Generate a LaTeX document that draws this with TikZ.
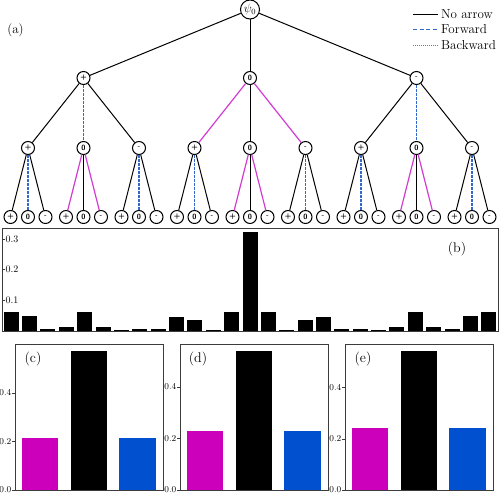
\documentclass[tikz,border=0pt]{standalone}
\usepackage{tikz}
\usetikzlibrary{positioning}

\definecolor{fwdblue}{RGB}{50,105,205}
\definecolor{bwdmag}{RGB}{210,60,210}
\definecolor{barmag}{RGB}{204,0,187}
\definecolor{barblue}{RGB}{0,80,208}
\definecolor{framegray}{RGB}{60,60,60}

\tikzset{
  state/.style={circle, draw=black, line width=1pt, inner sep=0pt, minimum size=13pt, font=\sffamily\bfseries\fontsize{7.5}{7.5}\selectfont},
  noarrow/.style={draw=black, line width=1pt},
  forward/.style={draw=fwdblue, dash pattern=on 2.5pt off 1.5pt, line width=1.3pt},
  backward/.style={draw=bwdmag, line width=1.2pt},
  % connector look from parent symbol to child symbol
  link pp/.style={noarrow}, link pz/.style={forward},  link pm/.style={noarrow},
  link zp/.style={backward}, link zz/.style={noarrow}, link zm/.style={backward},
  link mp/.style={noarrow}, link mz/.style={forward},  link mm/.style={noarrow},
  frame/.style={draw=framegray, line width=0.9pt},
  ticklabel/.style={font=\fontsize{9}{9}\selectfont, inner sep=0pt},
  panellabel/.style={font=\fontsize{14}{14}\selectfont, inner sep=0pt},
}

\begin{document}
\begin{tikzpicture}[x=1pt, y=-1pt]
        \useasboundingbox (0,0) rectangle (500,495);

        % (a) the tree: nodes first
        \node (laba) [font=\fontsize{13}{13}\selectfont] at (15.5,30) {(a)};
        \node (root) [state, minimum size=19pt, font=\fontsize{12}{12}\selectfont] at (250,9.5) {$\psi_0$};
        \foreach \a/\i/\ta in {p/-1/+, z/0/0, m/1/-} {
          \node (\a) [state] at ({250+166.5*\i},78) {\ta};
          \foreach \b/\j/\tb in {p/-1/+, z/0/0, m/1/-} {
            \node (\a\b) [state] at ({250+166.5*\i+55.5*\j},148) {\tb};
            \foreach \c/\k/\tc in {p/-1/+, z/0/0, m/1/-}
              \node (\a\b\c) [state] at ({250+166.5*\i+55.5*\j+17.5*\k},217) {\tc};
          }
        }

        % then the connectors
        \foreach \a in {p,z,m} {
          \draw [noarrow] (root) -- (\a);
          \foreach \b in {p,z,m} {
            \draw [link \a\b] (\a) -- (\a\b);
            \foreach \c in {p,z,m}
              \draw [link \b\c] (\a\b) -- (\a\b\c);
          }
        }

        % Legend
        \foreach \txt/\y [count=\n] in {No arrow/14.5, Forward/29.5, Backward/45.5} {
          \coordinate (leg\n) at (413,\y);
          \node (legt\n) [anchor=west, inner sep=0pt, font=\fontsize{13}{13}\selectfont] at (441,\y) {\txt};
        }
        \draw [noarrow] (leg1) -- ([xshift=-3pt]legt1.west);
        \draw [forward, dash pattern=on 4pt off 2.5pt] (leg2) -- ([xshift=-3pt]legt2.west);
        \draw [backward, dash pattern=on 1pt off 1pt] (leg3) -- ([xshift=-3pt]legt3.west);

        % (b) bar chart
        \foreach \h [count=\n] in {0.062,0.046,0.005,0.013,0.062,0.013,0.001,0.004,0.004,0.045,0.035,0.003,0.061,0.322,0.061,0.003,0.035,0.045,0.004,0.004,0.001,0.013,0.062,0.013,0.005,0.046,0.062}
          \fill ({250+(\n-14)*18.37-7.5},330.5) rectangle ++(15,{-\h*305});
        \draw [frame] (2,228) rectangle (498,331);
        \foreach \v in {1,2,3} {
          \draw [frame, line width=0.6pt] (2,{330.5-30.5*\v}) -- ++(3,0);
          \node (tb\v) [ticklabel, anchor=west, font=\fontsize{10}{10}\selectfont] at (5.5,{330.5-30.5*\v}) {0.\v};
        }
        \node (labb) [panellabel] at (457,249) {(b)};

        % (c), (d), (e) bar charts
        \foreach \x/\s/\m/\k/\lab in {15/242.5/0.215/0.573/c, 180/257.5/0.229/0.538/d, 345/256/0.243/0.543/e} {
          \fill [barmag] (\x+7,490) rectangle ++(36,{-\m*\s});
          \fill [black] (\x+56,490) rectangle ++(36,{-\k*\s});
          \fill [barblue] (\x+104,490) rectangle ++(37,{-\m*\s});
          \draw [frame] (\x,344) rectangle ++(148,146);
          \foreach \v in {0,2,4} {
            \draw [frame, line width=0.6pt] (\x,{490-\v*0.1*\s}) -- ++(-3,0);
            \node (t\lab\v) [ticklabel, anchor=east] at (\x-3.5,{490-\v*0.1*\s}) {0.\v};
          }
          \node (lab\lab) [panellabel] at (\x+18,359) {(\lab)};
        }
\end{tikzpicture}
\end{document}
